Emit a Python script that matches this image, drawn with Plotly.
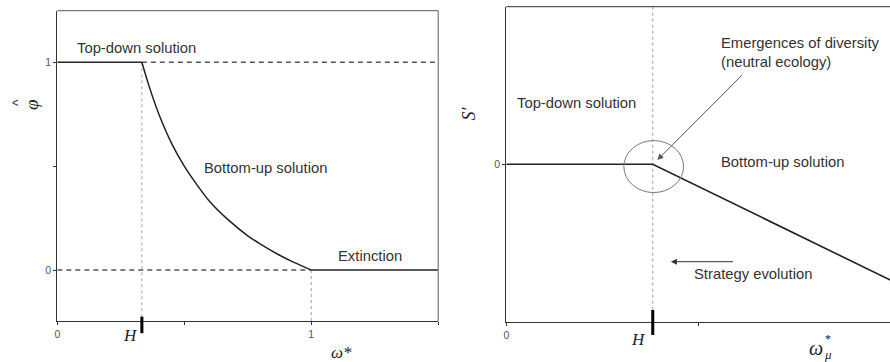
import plotly.graph_objects as go

# ---- data ----
H_left = 0.333
H_right = 0.38
# bottom-up branch of phi-hat vs omega*
curve_w = [0.333, 0.36, 0.40, 0.45, 0.50, 0.55, 0.60, 0.67, 0.75, 0.80, 0.87, 0.93, 1.0]
curve_phi = [1.0, 0.89, 0.75, 0.61, 0.50, 0.41, 0.33, 0.245, 0.165, 0.125, 0.075, 0.038, 0.0]
top_w = [0.0, 0.333]
top_phi = [1.0, 1.0]
ext_w = [1.0, 1.5]
ext_phi = [0.0, 0.0]
dash1_w = [0.333, 1.5]
dash1_phi = [1.0, 1.0]
dash0_w = [0.0, 1.0]
dash0_phi = [0.0, 0.0]
# right panel S' vs omega_mu*
s_w = [0.0, 0.38, 1.0]
s_val = [0.0, 0.0, -0.74]

left_xticks = [0, 0.5, 1, 1.5]
left_xtext = ["0", "", "1", ""]
left_yticks = [0, 0.5, 1]
left_ytext = ["0", "", "1"]
right_xticks = [0, 0.5]
right_xtext = ["0", ""]
right_yticks = [0]
right_ytext = ["0"]

W, Hh = 890, 362
def px(v):
    return v / W
def py(v):
    return (Hh - v) / Hh

LINE = "#222222"
DASH = "#555555"
DOT = "#a0a0a0"
TXT = "#333333"
SANS = "Liberation Sans, Arial, sans-serif"
SERIF = "Liberation Serif, Times New Roman, serif"
FS = 14.8

fig = go.Figure()
# left panel
fig.add_trace(go.Scatter(x=dash1_w, y=dash1_phi, mode="lines", line=dict(color=DASH, width=1.5, dash="5px,4px"), xaxis="x", yaxis="y"))
fig.add_trace(go.Scatter(x=dash0_w, y=dash0_phi, mode="lines", line=dict(color=DASH, width=1.5, dash="5px,4px"), xaxis="x", yaxis="y"))
fig.add_trace(go.Scatter(x=[H_left, H_left], y=[1, -0.25], mode="lines", line=dict(color=DOT, width=1, dash="dot"), xaxis="x", yaxis="y"))
fig.add_trace(go.Scatter(x=[1, 1], y=[0, -0.25], mode="lines", line=dict(color=DOT, width=1, dash="dot"), xaxis="x", yaxis="y"))
fig.add_trace(go.Scatter(x=top_w, y=top_phi, mode="lines", line=dict(color=LINE, width=1.5), xaxis="x", yaxis="y"))
fig.add_trace(go.Scatter(x=curve_w, y=curve_phi, mode="lines", line=dict(color=LINE, width=1.5, shape="spline", smoothing=0.6), xaxis="x", yaxis="y"))
fig.add_trace(go.Scatter(x=ext_w, y=ext_phi, mode="lines", line=dict(color=LINE, width=1.5), xaxis="x", yaxis="y"))
# right panel
fig.add_trace(go.Scatter(x=[H_right, H_right], y=[1, -1], mode="lines", line=dict(color=DOT, width=1, dash="dot"), xaxis="x2", yaxis="y2"))
fig.add_trace(go.Scatter(x=s_w, y=s_val, mode="lines", line=dict(color=LINE, width=1.6), xaxis="x2", yaxis="y2"))

axis_common = dict(showgrid=False, zeroline=False, showline=True, linecolor="#333333", linewidth=1.2,
                   ticks="outside", ticklen=3, tickcolor="#333333",
                   tickfont=dict(family=SANS, size=10.5, color="#555555"))

fig.update_layout(
    width=W, height=Hh, margin=dict(l=0, r=0, t=0, b=0),
    paper_bgcolor="white", plot_bgcolor="white", showlegend=False, hovermode=False,
    xaxis=dict(domain=[px(54.5), px(436.7)], range=[0, 1.5], tickvals=left_xticks, ticktext=left_xtext, anchor="y", **axis_common),
    yaxis=dict(domain=[py(321), py(10.7)], range=[-0.245, 1.248], tickvals=left_yticks, ticktext=left_ytext, anchor="x", **axis_common),
    xaxis2=dict(domain=[px(505), 1.0], range=[0, 0.9956], tickvals=right_xticks, ticktext=right_xtext, anchor="y2", **axis_common),
    yaxis2=dict(domain=[py(321.7), py(6.7)], range=[-1, 1], tickvals=right_yticks, ticktext=right_ytext, anchor="x2", **axis_common),
)

shapes = [
    # left frame top/right
    dict(type="line", xref="x domain", yref="y domain", x0=0, x1=1, y0=1, y1=1, line=dict(color="#777777", width=1.2)),
    dict(type="line", xref="x domain", yref="y domain", x0=1, x1=1, y0=0, y1=1, line=dict(color="#777777", width=1.2)),
    # right frame top
    dict(type="line", xref="x2 domain", yref="y2 domain", x0=0, x1=1, y0=1, y1=1, line=dict(color="#555555", width=1.2)),
    # H markers
    dict(type="line", xref="x", yref="paper", x0=H_left, x1=H_left, y0=py(333.3), y1=py(316.7), line=dict(color="black", width=3)),
    dict(type="line", xref="x2", yref="paper", x0=H_right, x1=H_right, y0=py(335), y1=py(310), line=dict(color="black", width=3)),
    # circle
    dict(type="circle", xref="x2", yref="y2", x0=0.305, x1=0.46, y0=-0.18, y1=0.15, line=dict(color="#777777", width=1)),
]
fig.update_layout(shapes=shapes)

ann = []
def txt(text, x, y, xref, yref, size=FS, family=SANS, xanchor="left", angle=0, color=TXT, align="left"):
    ann.append(dict(text=text, x=x, y=y, xref=xref, yref=yref, showarrow=False, xanchor=xanchor, yanchor="middle",
                    textangle=angle, align=align, font=dict(family=family, size=size, color=color)))

txt("Top-down solution", 0.07, 1.07, "x", "y")
txt("Bottom-up solution", 0.568, 0.49, "x", "y")
txt("Extinction", 1.098, 0.067, "x", "y")
txt("<i>φ</i>", px(28), py(104), "paper", "paper", size=19, family=SERIF, xanchor="center", angle=-90, color="#222")
txt("^", px(15), py(102), "paper", "paper", size=14, family=SANS, xanchor="center", angle=-90, color="#444")
txt("<i>H</i>", px(127.7), py(335), "paper", "paper", size=17, family=SERIF, xanchor="center", color="#222")
txt("<i>ω*</i>", px(340), py(352), "paper", "paper", size=17, family=SERIF, xanchor="center", color="#222")

txt("Emergences of diversity<br>(neutral ecology)", 0.553, 0.71, "x2", "y2")
txt("Top-down solution", 0.0215, 0.391, "x2", "y2")
txt("Bottom-up solution", 0.553, 0.0165, "x2", "y2")
txt("Strategy evolution", 0.483, -0.699, "x2", "y2")
txt("<i>S′</i>", px(468), py(113), "paper", "paper", size=18, family=SERIF, xanchor="center", angle=-90, color="#222")
txt("<i>H</i>", px(638), py(339), "paper", "paper", size=17, family=SERIF, xanchor="center", color="#222")
txt("<i>ω</i>", px(816), py(348), "paper", "paper", size=20, family=SERIF, xanchor="center", color="#222")
txt("*", px(828), py(339), "paper", "paper", size=12, family=SERIF, xanchor="center", color="#222")
txt("<i>μ</i>", px(828), py(354), "paper", "paper", size=13, family=SERIF, xanchor="center", color="#222")

ann.append(dict(x=0.392, y=0.027, ax=0.615, ay=0.574, xref="x2", yref="y2", axref="x2", ayref="y2",
                showarrow=True, arrowhead=2, arrowsize=1.2, arrowwidth=1, arrowcolor="#555555", text=""))
ann.append(dict(x=0.427, y=-0.619, ax=0.592, ay=-0.619, xref="x2", yref="y2", axref="x2", ayref="y2",
                showarrow=True, arrowhead=2, arrowsize=1.2, arrowwidth=1, arrowcolor="#333333", text=""))
fig.update_layout(annotations=ann)

fig.write_html("out.html", config={"displayModeBar": False, "staticPlot": True},
               post_script="document.body.style.margin='0';document.body.style.overflow='hidden';")
